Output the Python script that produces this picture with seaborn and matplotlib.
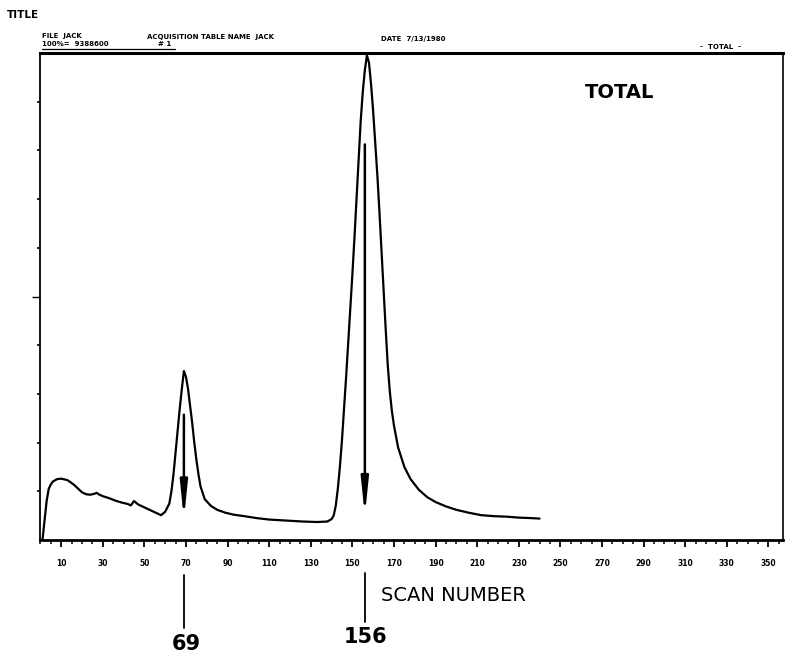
import matplotlib
matplotlib.use("Agg")
import matplotlib.pyplot as plt
import seaborn as sns
import pandas as pd

# chromatogram trace (scan number vs % of max intensity)
scans = [1, 2, 3, 4, 5, 6, 8, 10, 13, 16, 18, 20, 22, 24, 26, 27, 28, 30, 33,
         36, 39, 42, 43.5, 45, 47, 50, 53, 56, 58, 60, 62, 63, 64, 65, 66, 67,
         68, 69, 70, 71, 72, 73, 74, 75, 76, 77, 79, 82, 85, 89, 93, 98, 104,
         110, 118, 126, 133, 138, 140, 141, 142, 143, 144, 145, 146, 147, 148,
         149, 150, 151, 152, 153, 154, 155, 156, 157, 158, 159, 160, 161, 162,
         163, 164, 165, 166, 167, 168, 169, 170, 172, 175, 178, 182, 186, 190,
         195, 200, 206, 212, 218, 224, 230, 236, 240]
intensity = [0, 4, 8, 10.5, 11.4, 12, 12.5, 12.6, 12.3, 11.4, 10.6, 9.8, 9.4,
             9.3, 9.5, 9.7, 9.4, 9.0, 8.6, 8.1, 7.7, 7.4, 7.1, 8.0, 7.3, 6.7,
             6.1, 5.5, 5.1, 5.8, 7.5, 10, 13.5, 18, 22.5, 27, 31, 34.7, 33.5,
             31, 27.5, 24, 20, 16.5, 13.5, 11, 8.4, 7, 6.2, 5.6, 5.2, 4.9, 4.5,
             4.2, 4.0, 3.8, 3.7, 3.8, 4.3, 5, 7, 10.5, 15, 20.5, 27, 33.5, 40.5,
             47.5, 54.5, 62, 70, 78, 86, 92, 96.5, 99.5, 98, 93.5, 88, 81.5, 75,
             67.5, 59.5, 51.5, 43.5, 36, 30.5, 26.5, 23.5, 19, 15, 12.5, 10.3,
             8.8, 7.8, 6.9, 6.2, 5.6, 5.1, 4.9, 4.8, 4.6, 4.5, 4.4]

# peak markers: scan, arrow top, arrow bottom
peak_scans = [69, 156]
arrow_tops = [26.3, 81.8]
arrow_bottoms = [3.8, 4.5]

x_labels = list(range(10, 351, 20))

df = pd.DataFrame({"scan": scans, "intensity": intensity})

sns.set_style("white")
plt.rcParams["font.family"] = ["DejaVu Sans"]
plt.rcParams["text.color"] = "black"
plt.rcParams["xtick.color"] = "black"
plt.rcParams["ytick.color"] = "black"

fig = plt.figure(figsize=(7.9, 6.56), dpi=100)
ax = fig.add_axes([0.0506, 0.1768, 0.9404, 0.7424])

sns.lineplot(data=df, x="scan", y="intensity", estimator=None, color="black",
             linewidth=1.6, ax=ax)

for s, top, bot in zip(peak_scans, arrow_tops, arrow_bottoms):
    ax.annotate("", xy=(s, bot), xytext=(s, top),
                arrowprops=dict(arrowstyle="-|>,head_length=2.1,head_width=0.22",
                                lw=1.8, color="black"))

ax.set_xlim(-0.2, 357)
ax.set_ylim(0, 100)
ax.set_xlabel("")
ax.set_ylabel("")

ax.set_xticks(x_labels)
ax.set_xticklabels([str(v) for v in x_labels], fontsize=5.5, fontweight="bold")
ax.set_xticks(range(0, 356, 5), minor=True)
ax.set_yticks([50])
ax.set_yticklabels([])
ax.set_yticks(range(10, 100, 10), minor=True)
ax.tick_params(axis="x", which="major", direction="out", length=5, width=1.3,
               pad=9, bottom=True)
ax.tick_params(axis="x", which="minor", direction="out", length=3, width=1.1,
               bottom=True)
ax.tick_params(axis="y", which="major", direction="out", length=6, width=1,
               left=True)
ax.tick_params(axis="y", which="minor", direction="out", length=2.5, width=1.2,
               left=True)

for side, lw in [("top", 2.2), ("bottom", 2.0), ("left", 1.3), ("right", 1.2)]:
    ax.spines[side].set_visible(True)
    ax.spines[side].set_color("black")
    ax.spines[side].set_linewidth(lw)

ax.text(262, 91.8, "TOTAL", fontsize=14, fontweight="bold", va="center", ha="left")

# scan number call-outs under the axis
trans = ax.get_xaxis_transform()
ax.plot([69, 69], [-0.072, -0.18], transform=trans, color="black", lw=1.3, clip_on=False)
ax.plot([156, 156], [-0.068, -0.168], transform=trans, color="black", lw=1.3, clip_on=False)
ax.text(70, -0.214, "69", transform=trans, fontsize=15, fontweight="bold",
        ha="center", va="center")
ax.text(156.5, -0.199, "156", transform=trans, fontsize=15, fontweight="bold",
        ha="center", va="center")
ax.text(164, -0.113, "SCAN NUMBER", transform=trans, fontsize=14,
        ha="left", va="center")

# printer header
fig.text(0.009, 0.977, "TITLE", fontsize=7.5, fontweight="bold", va="center")
fig.text(0.053, 0.945, "FILE  JACK", fontsize=5, fontweight="bold", va="center")
fig.text(0.053, 0.933, "100%=  9388600", fontsize=5, fontweight="bold", va="center")
fig.text(0.186, 0.944, "ACQUISITION TABLE NAME  JACK", fontsize=5, fontweight="bold", va="center")
fig.text(0.200, 0.933, "# 1", fontsize=5, fontweight="bold", va="center")
fig.text(0.482, 0.941, "DATE  7/13/1980", fontsize=5, fontweight="bold", va="center")
fig.text(0.886, 0.928, "-  TOTAL  -", fontsize=5, fontweight="bold", va="center")
fig.add_artist(plt.Line2D([0.053, 0.222], [0.926, 0.926], color="black", lw=0.9))

fig.savefig("out.png", dpi=100)
